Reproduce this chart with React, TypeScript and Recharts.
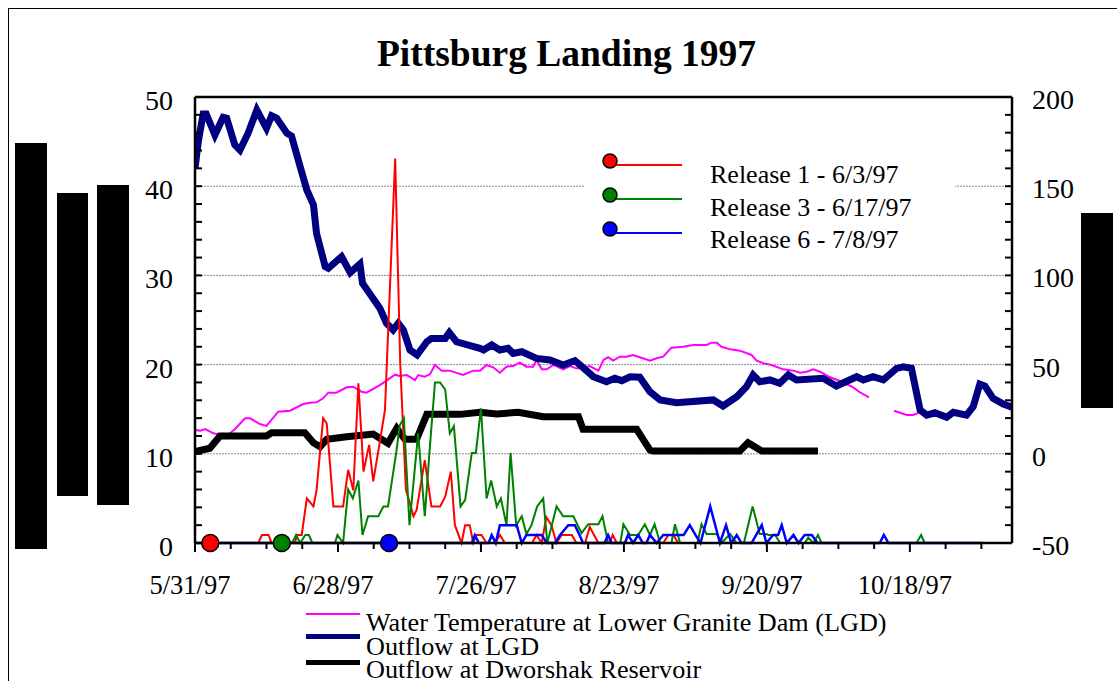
import React from "react";
import { LineChart, Line, XAxis, YAxis, ReferenceLine, ReferenceDot } from "recharts";

const FONT = '"Liberation Serif", "Times New Roman", Times, serif';

// x = days after 5/31/97
const dateTickDays = [0, 7, 14, 21, 28, 35, 42, 49, 56, 63, 70, 77, 84, 91, 98, 105, 112, 119, 126, 133, 140, 147, 154];
const dateLabelDays = [0, 28, 56, 84, 112, 140];
const dateLabels = ["5/31/97", "6/28/97", "7/26/97", "8/23/97", "9/20/97", "10/18/97"];

const leftLabels = [0, 10, 20, 30, 40, 50];
const rightLabels = [-50, 0, 50, 100, 150, 200];
const gridValues = [10, 20, 30, 40];

// water temperature at LGD (left axis)
const temp: [number, number | null][] = [
  [0, 12.67], [1, 12.6], [2, 12.78], [3.6, 12.3], [6.2, 12.0], [7.8, 12.75], [9.8, 13.98], [10.8, 13.98],
  [12.7, 13.34], [14.0, 13.12], [16.3, 14.72], [18.6, 14.83], [21.2, 15.58], [22.5, 15.73], [23.8, 15.77],
  [25.1, 16.22], [26.1, 16.85], [27.7, 16.85], [29.7, 17.45], [31.0, 17.52], [32.6, 16.96], [33.6, 16.85],
  [36.2, 17.71], [39.2, 18.87], [40.1, 18.72], [41.5, 18.83], [43.1, 18.27], [43.7, 18.83], [45.0, 18.64],
  [46.0, 18.91], [47.0, 19.96], [48.3, 19.32], [49.9, 19.32], [52.5, 18.83], [54.5, 19.32], [55.8, 19.32],
  [57.1, 19.96], [58.4, 19.7], [59.7, 19.09], [61.0, 19.77], [62.3, 19.84], [63.6, 20.21], [64.9, 19.77],
  [66.2, 19.77], [66.9, 20.52], [67.9, 19.47], [68.9, 19.47], [70.2, 19.96], [72.1, 19.47], [73.4, 19.84],
  [74.7, 19.58], [75.7, 19.58], [77.3, 19.84], [79.0, 19.32], [80.0, 20.52], [80.9, 20.82], [81.9, 20.44],
  [83.2, 20.89], [84.5, 20.89], [85.8, 21.08], [87.1, 20.82], [89.1, 20.44], [90.4, 20.71], [91.7, 20.89],
  [93.3, 21.9], [95.6, 22.0], [97.6, 22.2], [100.2, 22.2], [101.2, 22.46], [102.2, 22.46], [103.1, 22.0],
  [104.8, 21.71], [106.7, 21.56], [109.0, 21.08], [110.0, 20.44], [111.3, 20.15], [112.9, 19.96],
  [115.2, 19.47], [117.2, 19.32], [118.5, 19.09], [119.8, 19.2], [121.1, 19.47], [122.4, 19.2],
  [124.4, 18.58], [126.3, 18.16], [128.9, 17.45], [130.2, 16.9], [132.0, 16.33], [134.5, null],
  [136.9, 14.83], [139.4, 14.35], [140.6, 14.35], [142.0, 14.65],
];

// outflow at LGD (right axis)
const lgd: [number, number][] = [
  [0, 160], [0.7, 176], [1.6, 190.5], [2.2, 190.5], [3.9, 178.7], [5.5, 188.6], [6.2, 188.1], [7.8, 173.1],
  [8.8, 170.3], [10.4, 179.7], [12.1, 192.7], [14.0, 182.5], [15.0, 189.5], [16.0, 188.1], [18.0, 179.7],
  [18.9, 178.1], [20.6, 160.9], [21.9, 147.9], [23.2, 139.5], [23.8, 123.6], [25.5, 104.9], [26.1, 104.0],
  [28.7, 110.5], [30.4, 101.5], [32.3, 106.4], [32.8, 95.6], [36.2, 81.6], [37.5, 73.2], [38.8, 69.4],
  [39.8, 73.2], [40.8, 69.4], [42.1, 58.2], [43.5, 55.4], [45.4, 62.8], [46.3, 64.7], [49.0, 64.7],
  [49.8, 67.9], [51.2, 62.8], [55.8, 59.1], [56.5, 58.2], [58.1, 61.0], [59.7, 58.2], [61.3, 59.1],
  [62.3, 56.3], [64.0, 57.2], [66.9, 53.5], [69.5, 52.6], [72.1, 49.8], [74.4, 52.2], [75.4, 49.8],
  [78.0, 43.2], [80.6, 40.4], [82.2, 42.3], [83.6, 41.0], [85.2, 43.2], [87.1, 42.9], [89.1, 34.8],
  [91.1, 30.2], [94.3, 28.6], [101.5, 30.2], [103.4, 26.8], [106.1, 32.0], [108.0, 37.6], [109.3, 44.2],
  [110.6, 40.4], [112.6, 41.4], [114.5, 39.5], [116.2, 44.2], [117.8, 41.4], [123.0, 42.3], [125.6, 38.0],
  [129.6, 43.2], [130.9, 41.4], [132.8, 43.2], [134.8, 41.4], [137.4, 47.9], [138.7, 48.8], [140.3, 47.9],
  [142.0, 24.6], [143.3, 21.7], [144.9, 23.0], [147.2, 20.5], [148.5, 23.3], [151.1, 21.7], [152.4, 26.4],
  [153.7, 39.1], [154.7, 38.0], [156.3, 31.1], [158.3, 27.9], [160, 26.1],
];

// outflow at Dworshak (right axis)
const dworshak: [number, number][] = [
  [0, 1.2], [2.9, 3.1], [4.9, 10.0], [14.0, 10.0], [15.0, 11.8], [21.5, 11.8], [23.2, 6.2], [24.5, 4.0],
  [25.8, 8.1], [29.7, 9.6], [34.9, 11.1], [36.2, 8.7], [37.8, 5.9], [39.5, 14.3], [41.1, 8.1], [43.4, 8.1],
  [45.4, 22.1], [51.9, 22.1], [55.8, 23.3], [59.1, 22.3], [63.3, 23.3], [68.2, 20.8], [75.1, 20.8],
  [76.0, 13.7], [86.5, 13.7], [89.1, 2.1], [89.7, 1.6], [106.7, 1.6], [108.3, 6.2], [111.0, 1.6], [122.0, 1.6],
];

// Release 1 - 6/3/97 (left axis)
const rel1: [number, number][] = [
  [0, 0], [12.4, 0], [13.1, 0.9], [14.4, 0.9], [15.0, 0], [19.6, 0], [19.9, 0.9], [20.9, 0.9], [21.9, 5.0],
  [23.2, 4.1], [23.8, 5.9], [25.1, 14.0], [25.8, 13.4], [27.1, 4.1], [29.0, 4.1], [30.0, 8.2], [31.0, 5.9],
  [32.0, 17.9], [33.0, 8.0], [34.1, 11.0], [34.9, 6.9], [36.1, 11.0], [37.2, 14.9], [39.2, 43.1],
  [40.2, 20.0], [41.3, 6.0], [42.8, 3.0], [43.4, 3.7], [45.0, 9.3], [46.3, 4.1], [48.0, 4.1], [49.0, 5.2],
  [50.1, 8.0], [50.9, 2.0], [52.2, 0], [52.9, 2.0], [53.8, 2.0], [54.5, 0], [55.1, 0.9], [56.1, 0.9],
  [57.1, 0], [58.8, 0], [59.7, 0.9], [60.7, 0], [66.0, 0], [66.9, 0.9], [67.9, 0], [68.8, 2.9], [69.8, 2.0],
  [70.8, 0], [71.8, 0.9], [72.8, 0.9], [73.8, 0.9], [74.7, 0], [76.4, 0], [77.3, 1.8], [79.0, 0], [81.2, 0],
  [81.8, 0.9], [82.6, 0], [91.7, 0], [92.7, 0.9], [93.7, 0.9], [94.6, 0], [122, 0],
];

// Release 3 - 6/17/97 (left axis)
const rel3: [number, number][] = [
  [0, 0], [19.0, 0], [19.8, 0.9], [20.6, 0], [21.6, 0.9], [22.3, 0.9], [23.0, 0], [27.4, 0], [27.9, 0.9],
  [29.0, 0], [30.0, 6.0], [30.9, 5.0], [32.0, 7.0], [32.8, 0.9], [33.9, 3.0], [35.9, 3.0], [36.9, 4.1],
  [37.8, 4.1], [39.4, 10.1], [40.1, 13.2], [40.9, 14.0], [42.0, 2.0], [43.7, 12.3], [45.0, 3.0], [46.0, 10.8],
  [47.0, 18.0], [48.0, 18.0], [49.0, 17.2], [49.9, 12.3], [50.7, 13.1], [52.0, 4.1], [52.9, 4.8],
  [54.2, 10.1], [55.0, 10.1], [56.0, 15.1], [57.1, 5.0], [58.0, 7.0], [59.1, 4.1], [59.9, 5.0], [61.0, 2.0],
  [61.8, 10.1], [62.9, 2.0], [64.0, 3.0], [64.9, 1.0], [65.9, 2.0], [67.0, 4.1], [68.2, 5.0], [69.0, 0],
  [70.8, 4.1], [72.1, 3.0], [74.1, 3.0], [75.7, 1.1], [77.0, 2.1], [79.0, 2.1], [79.8, 3.0], [80.9, 0],
  [83.3, 0], [83.9, 2.1], [85.2, 0.9], [86.8, 0.9], [88.1, 2.1], [89.1, 0.9], [90.0, 2.1], [91.1, 0],
  [93.3, 0], [94.0, 2.1], [95.0, 0], [98.4, 0], [99.2, 2.1], [100.2, 1.0], [102.2, 1.0], [103.1, 0],
  [104.8, 1.0], [106.1, 0], [107.5, 0], [109.2, 4.1], [110.6, 1.0], [111.9, 1.0], [112.3, 0.9],
  [113.6, 0.9], [114.6, 0], [119.4, 0], [120.1, 0.6], [121.1, 0], [122.0, 0.9], [122.7, 0], [141.3, 0],
  [142.2, 0.9], [142.9, 0], [154.2, 0],
];

// Release 6 - 7/8/97 (left axis)
const rel6: [number, number][] = [
  [0, 0], [54.2, 0], [54.8, 0.9], [55.6, 0], [57.5, 0], [58.1, 0.9], [58.9, 0], [59.7, 2.0], [63.0, 2.0],
  [64.0, 0], [64.9, 0.9], [67.9, 0.9], [68.9, 0], [70.5, 0], [71.5, 0.9], [73.1, 2.0], [74.4, 2.0],
  [75.3, 0.9], [76.0, 0], [80.2, 0], [80.9, 0.9], [81.6, 0], [84.2, 0], [84.8, 0.9], [85.8, 0], [86.8, 0.9],
  [87.7, 0], [88.4, 0], [89.1, 0.9], [90.4, 0], [91.7, 0.9], [95.7, 0.9], [96.9, 2.0], [98.0, 0.9],
  [99.0, 0], [100.9, 4.1], [102.8, 0], [104.0, 2.0], [105.0, 0], [106.1, 0.9], [107.0, 0], [109.0, 0],
  [111.0, 2.0], [111.9, 0], [113.2, 0.9], [114.2, 0.9], [114.9, 2.0], [115.9, 0], [117.2, 0.9], [118.2, 0],
  [119.4, 0.9], [120.8, 0.9], [121.9, 0], [134.1, 0], [134.9, 0.9], [135.8, 0], [154.2, 0],
];

const releaseDays = [3, 17, 38];
const releaseColors = ["#ff0000", "#008000", "#0000ff"];
const releaseNames = ["Release 1 - 6/3/97", "Release 3 - 6/17/97", "Release 6 - 7/8/97"];

const toRows = (pts: [number, number | null][]) => pts.map(([d, v]) => ({ d, v }));

function LeftTick(props: any) {
  const { x, y, payload } = props;
  const major = leftLabels.includes(payload.value);
  return (
    <g>
      <line x1={x} x2={x + 7} y1={y} y2={y} stroke="#000" strokeWidth={2} />
      {major && (
        <text x={x - 22} y={y + 13} textAnchor="end" fontSize={28} fontFamily={FONT} fill="#000">
          {payload.value}
        </text>
      )}
    </g>
  );
}

function RightTick(props: any) {
  const { x, y, payload } = props;
  const major = rightLabels.includes(payload.value);
  return (
    <g>
      <line x1={x - 7} x2={x} y1={y} y2={y} stroke="#000" strokeWidth={2} />
      {major && (
        <text x={x + 20} y={y + 12} textAnchor="start" fontSize={28} fontFamily={FONT} fill="#000">
          {payload.value}
        </text>
      )}
    </g>
  );
}

function DateTick(props: any) {
  const { x, y, payload } = props;
  const i = dateLabelDays.indexOf(payload.value);
  return (
    <g>
      <line x1={x} x2={x} y1={y} y2={y + (i >= 0 ? 9 : 6)} stroke="#000" strokeWidth={2} />
      {i >= 0 && (
        <text x={x - 5} y={y + 51} textAnchor="middle" fontSize={26.5} fontFamily={FONT} fill="#000">
          {dateLabels[i]}
        </text>
      )}
    </g>
  );
}

const leftTicks = [0, 2, 4, 6, 8, 10, 12, 14, 16, 18, 20, 22, 24, 26, 28, 30, 32, 34, 36, 38, 40, 42, 44, 46, 48, 50];
const rightTicks = [-50, -40, -30, -20, -10, 0, 10, 20, 30, 40, 50, 60, 70, 80, 90, 100, 110, 120, 130, 140, 150, 160, 170, 180, 190, 200];

const blocks = [
  { left: 15, top: 143, w: 32, h: 406 },
  { left: 57, top: 193, w: 31, h: 303 },
  { left: 97, top: 185, w: 32, h: 320 },
  { left: 1081, top: 213, w: 32, h: 195 },
];

export default function App() {
  return (
    <div style={{ position: "absolute", left: 0, top: 0, width: 1117, height: 681, background: "#fff", overflow: "hidden", fontFamily: FONT }}>
      <div style={{ position: "absolute", left: 8, top: 8, width: 1200, height: 800, borderLeft: "1px solid #000", borderTop: "1px solid #000" }} />
      <div style={{ position: "absolute", left: 0, top: 35, width: 1133, textAlign: "center", fontSize: 37.5, fontWeight: 700, lineHeight: "37px" }}>
        Pittsburg Landing 1997
      </div>
      {blocks.map((b, i) => (
        <div key={i} style={{ position: "absolute", left: b.left, top: b.top, width: b.w, height: b.h, background: "#000" }} />
      ))}
      <div style={{ position: "absolute", left: 0, top: 0 }}>
        <LineChart width={1117} height={681} margin={{ top: 97, right: 45, bottom: 78, left: 135 }}>
          <XAxis
            type="number"
            dataKey="d"
            domain={[0, 160]}
            ticks={dateTickDays}
            interval={0}
            tickSize={0}
            tickMargin={0}
            tickLine={false}
            tick={<DateTick />}
            height={60}
            axisLine={{ stroke: "#000", strokeWidth: 2.5 }}
            allowDataOverflow
          />
          <YAxis
            yAxisId="left"
            domain={[0, 50]}
            ticks={leftTicks}
            interval={0}
            tickSize={0}
            tickMargin={0}
            tickLine={false}
            tick={<LeftTick />}
            width={60}
            axisLine={{ stroke: "#000", strokeWidth: 2.5 }}
          />
          <YAxis
            yAxisId="right"
            orientation="right"
            domain={[-50, 200]}
            ticks={rightTicks}
            interval={0}
            tickSize={0}
            tickMargin={0}
            tickLine={false}
            tick={<RightTick />}
            width={60}
            axisLine={{ stroke: "#000", strokeWidth: 2.5 }}
          />
          {gridValues.map((g) => (
            <ReferenceLine key={g} yAxisId="left" y={g} stroke="#8a8a8a" strokeWidth={1} strokeDasharray="2 1" />
          ))}
          <ReferenceLine yAxisId="left" y={50} stroke="#000" strokeWidth={2.5} />
          <Line yAxisId="left" data={toRows(temp)} dataKey="v" stroke="#ff00ff" strokeWidth={2} dot={false} isAnimationActive={false} />
          <Line yAxisId="right" data={toRows(lgd)} dataKey="v" stroke="#000080" strokeWidth={7} dot={false} isAnimationActive={false} />
          <Line yAxisId="right" data={toRows(dworshak)} dataKey="v" stroke="#000" strokeWidth={7} dot={false} isAnimationActive={false} />
          <Line yAxisId="left" data={toRows(rel1)} dataKey="v" stroke="#ff0000" strokeWidth={2} dot={false} isAnimationActive={false} />
          <Line yAxisId="left" data={toRows(rel3)} dataKey="v" stroke="#008000" strokeWidth={2} dot={false} isAnimationActive={false} />
          <Line yAxisId="left" data={toRows(rel6)} dataKey="v" stroke="#0000ff" strokeWidth={2.5} dot={false} isAnimationActive={false} />
          {releaseDays.map((d, i) => (
            <ReferenceDot key={d} yAxisId="left" x={d} y={0} r={8.5} fill={releaseColors[i]} stroke="#000" strokeWidth={1.5} />
          ))}
        </LineChart>
      </div>
      {/* release legend inside the plot */}
      <div style={{ position: "absolute", left: 584, top: 140, width: 371, height: 122, background: "#fff" }}>
        <svg width={110} height={122} style={{ position: "absolute", left: 0, top: 0 }}>
          {releaseColors.map((c, i) => (
            <g key={c}>
              <line x1={30} x2={98} y1={25 + i * 34} y2={25 + i * 34} stroke={c} strokeWidth={2} />
              <circle cx={26} cy={21 + i * 34} r={7} fill={c} stroke="#000" strokeWidth={1.5} />
            </g>
          ))}
        </svg>
        {releaseNames.map((n, i) => (
          <div key={n} style={{ position: "absolute", left: 126, top: 22 + i * 32.5, fontSize: 26, lineHeight: "26px", whiteSpace: "nowrap" }}>
            {n}
          </div>
        ))}
      </div>
      {/* series legend */}
      {[
        { label: "Water Temperature at Lower Granite Dam (LGD)", color: "#ff00ff", h: 2, ly: 614, ty: 612 },
        { label: "Outflow at LGD", color: "#000080", h: 5, ly: 636, ty: 636 },
        { label: "Outflow at Dworshak Reservoir", color: "#000", h: 5, ly: 662, ty: 659 },
      ].map((l) => (
        <React.Fragment key={l.label}>
          <div style={{ position: "absolute", left: 306, top: l.ly - l.h / 2, width: 54, height: l.h, background: l.color }} />
          <div style={{ position: "absolute", left: 366, top: l.ty, fontSize: 26.2, lineHeight: "22px", whiteSpace: "nowrap" }}>{l.label}</div>
        </React.Fragment>
      ))}
    </div>
  );
}
